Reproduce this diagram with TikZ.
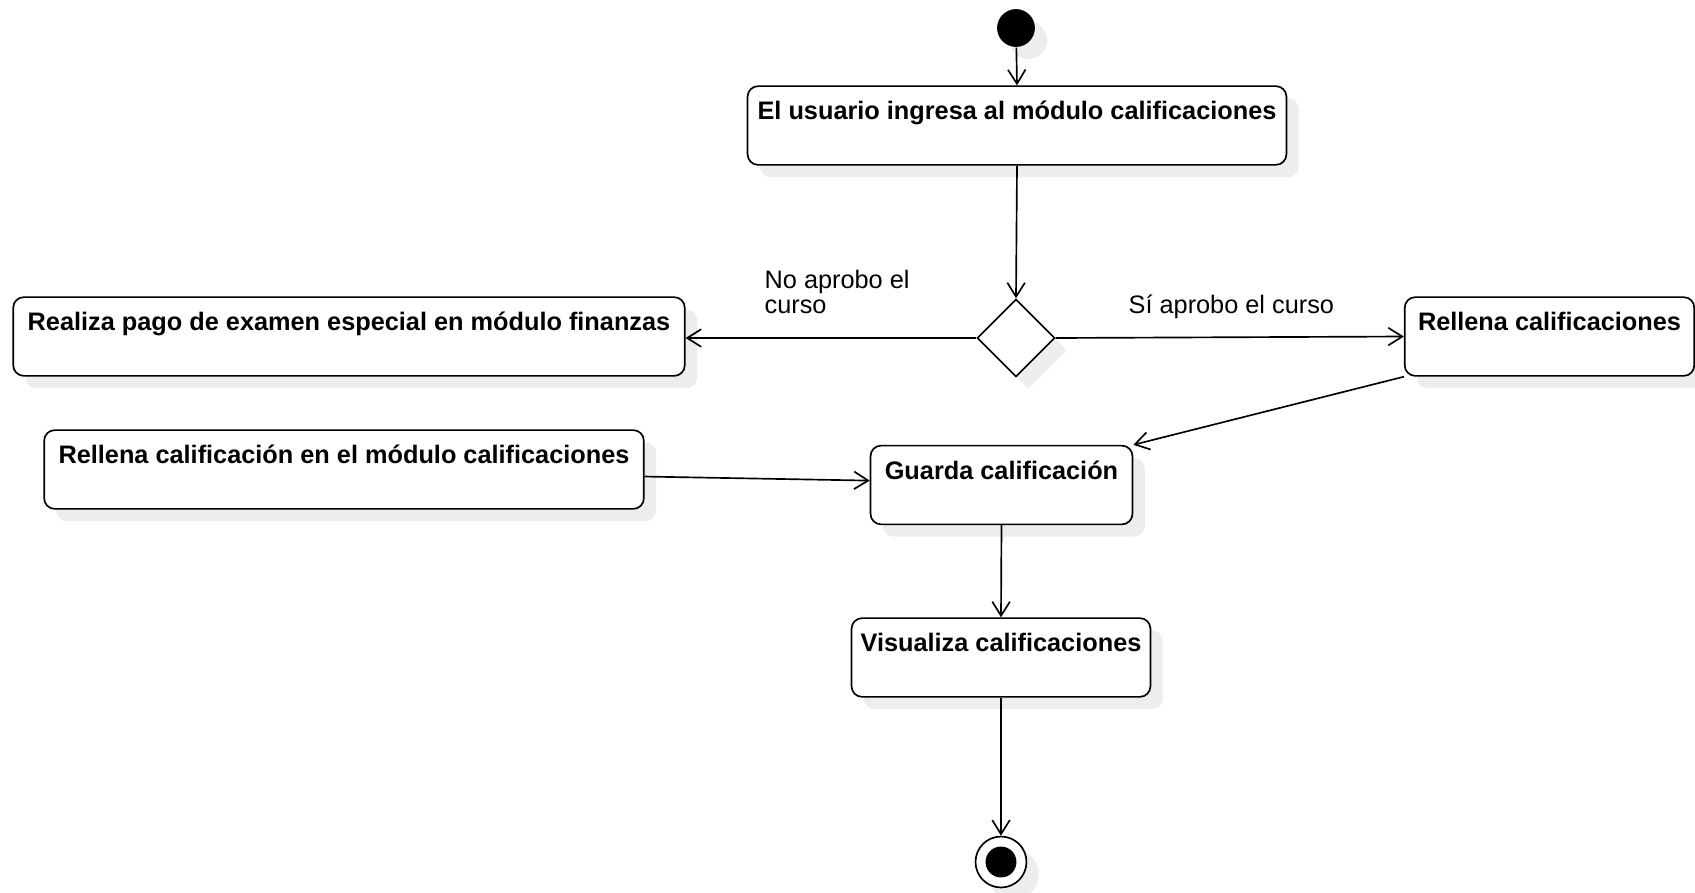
\documentclass[tikz,border=0pt]{standalone}
\usepackage{fontspec}
\setmainfont{Liberation Sans}
\usetikzlibrary{shapes.geometric,shadows,arrows.meta}

\begin{document}
\begin{tikzpicture}[x=0.02cm,y=-0.02cm,line width=0.95pt,
  font=\fontsize{14.4}{14.7}\selectfont,
  shd/.style={drop shadow={shadow xshift=7pt,shadow yshift=-7pt,fill=black!7,opacity=1}},
  act/.style={draw,fill=white,rounded corners=6pt,shd,font=\fontsize{14.4}{14.7}\selectfont\bfseries,
    inner xsep=0pt,inner ysep=0pt,text height=19pt,text depth=25.8pt},
  dec/.style={diamond,draw,fill=white,minimum width=44.2pt,minimum height=44.2pt,inner sep=0pt,shd},
  startnode/.style={circle,fill=black,minimum size=21.5pt,inner sep=0pt,shd},
  endnode/.style={circle,draw,fill=white,minimum size=29pt,inner sep=0pt,shd,
    path picture={\fill[black] (path picture bounding box.center) circle (8.8pt);}},
  flow/.style={-{Straight Barb[length=8pt,width=10pt]}}]
\useasboundingbox (0,0) rectangle (1695,893);

\node[startnode] (start) at (1016,28) {};
\node[act,minimum width=306.7pt] (ingresa) at (1017,125.5) {El usuario ingresa al módulo calificaciones};
\node[dec] (aprobo) at (1016,338) {};
\node[act,minimum width=382.2pt] (pago) at (349,336.5) {Realiza pago de examen especial en módulo finanzas};
\node[act,minimum width=164.8pt] (rellena) at (1549.5,336.5) {Rellena calificaciones};
\node[act,minimum width=341.3pt] (rellmod) at (344,469.5) {Rellena calificación en el módulo calificaciones};
\node[act,minimum width=149.1pt] (guarda) at (1001.5,485) {Guarda calificación};
\node[act,minimum width=170.1pt] (visual) at (1001,657.5) {Visualiza calificaciones};
\node[endnode] (fin) at (1001,862) {};

\node[anchor=west,align=left] (lno) at (758,292) {No aprobo el\\curso};
\node[anchor=west] (lsi) at (1122,307) {Sí aprobo el curso};

\draw[flow] (start) -- (ingresa.north);
\draw[flow] (ingresa.south) -- (aprobo.north);
\draw[flow] (aprobo.west) -- (aprobo.west -| pago.east);
\draw[flow] (aprobo.east) -- (rellena.west);
\draw[flow] (rellena.south west) -- (guarda.north east);
\draw[flow] ([yshift=-4pt]rellmod.east) -- ([yshift=2.5pt]guarda.west);
\draw[flow] (guarda.south) -- (visual.north);
\draw[flow] (visual.south) -- (fin.north);
\end{tikzpicture}
\end{document}
